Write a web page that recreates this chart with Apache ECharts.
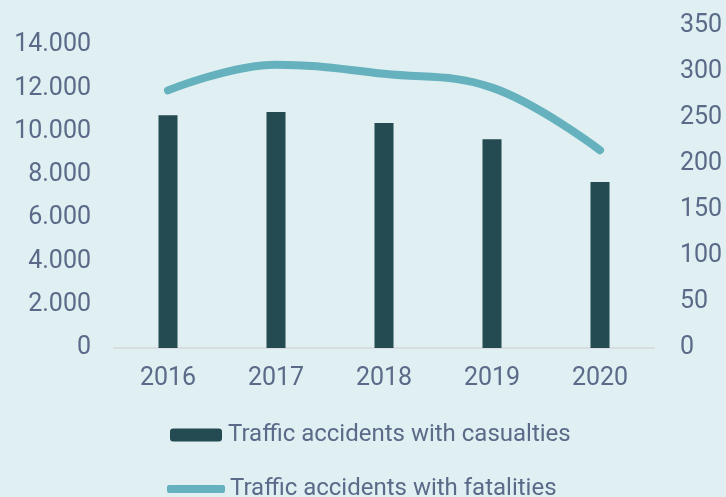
<!DOCTYPE html>
<html><head><meta charset="utf-8">
<script src="https://cdn.jsdelivr.net/npm/echarts@6/dist/echarts.min.js"></script>
<style>html,body{margin:0;padding:0;background:#e0eff2;}#c{width:726px;height:497px;}</style>
</head><body><div id="c"></div>
<script>
const years = ['2016','2017','2018','2019','2020'];
const casualties = [10750, 10900, 10400, 9650, 7670];
const fatalities = [280, 308, 298, 283, 215];
const leftTicks = {min:0, max:14000, interval:2000};
const rightTicks = {min:0, max:350, interval:50};
const nameCas = 'Traffic accidents with casualties';
const nameFat = 'Traffic accidents with fatalities';

const txt = '#5a6a88';
const font = 'Roboto';
const fw = 400;
const fmt = v => String(v).replace(/\B(?=(\d{3})+(?!\d))/g, '.');
const chart = echarts.init(document.getElementById('c'));
chart.setOption({
  backgroundColor: '#e0eff2',
  animation: false,
  grid: [
    {left:114, right:72, top:45, bottom:149},
    {left:114, right:72, top:26, bottom:149}
  ],
  legend: [
    {data:[nameCas], left:170, top:423, padding:0, itemWidth:52, itemHeight:13, itemGap:6,
     textStyle:{color:txt, fontSize:24, fontFamily:font, fontWeight:fw, padding:[0,0,0,1]}},
    {data:[{name:nameFat, icon:'roundRect'}], left:167, top:477, padding:0, itemWidth:58, itemHeight:8,
     textStyle:{color:txt, fontSize:24, fontFamily:font, fontWeight:fw, padding:[0,0,0,0]}}
  ],
  xAxis: [
    {gridIndex:0, type:'category', data:years,
     axisLine:{lineStyle:{color:'#d4d8da', width:1.5}}, axisTick:{show:false},
     axisLabel:{color:txt, fontSize:25, fontFamily:font, fontWeight:fw, margin:18}},
    {gridIndex:1, type:'category', data:years, show:false}
  ],
  yAxis: [
    {gridIndex:0, type:'value', min:leftTicks.min, max:leftTicks.max, interval:leftTicks.interval,
     splitLine:{show:false}, axisLine:{show:false}, axisTick:{show:false},
     axisLabel:{color:txt, fontSize:25, fontFamily:font, fontWeight:fw, margin:23, formatter:fmt}},
    {gridIndex:1, type:'value', position:'right', min:rightTicks.min, max:rightTicks.max, interval:rightTicks.interval,
     splitLine:{show:false}, axisLine:{show:false}, axisTick:{show:false},
     axisLabel:{color:txt, fontSize:25, fontFamily:font, fontWeight:fw, margin:26}}
  ],
  series: [
    {name:nameCas, type:'bar', xAxisIndex:0, yAxisIndex:0, data:casualties, barWidth:19,
     itemStyle:{color:'#234b51'}},
    {name:nameFat, type:'line', xAxisIndex:1, yAxisIndex:1, data:fatalities, smooth:0.4,
     symbol:'none', lineStyle:{color:'#65b1bd', width:8, cap:'round', join:'round'},
     itemStyle:{color:'#65b1bd'}}
  ]
});
</script></body></html>
